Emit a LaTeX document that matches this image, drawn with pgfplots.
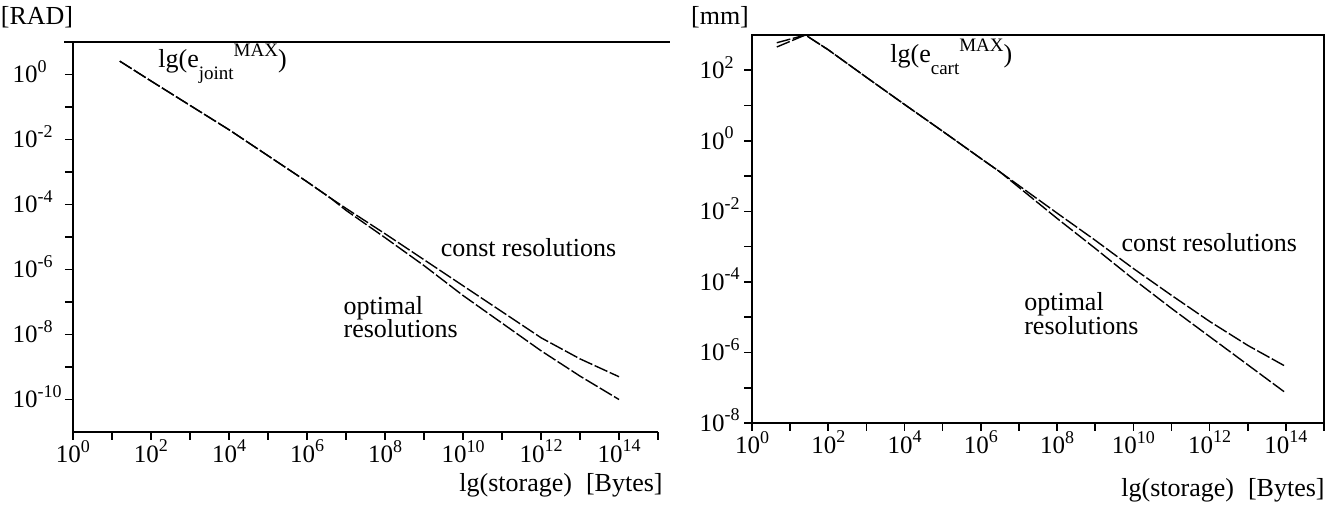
\documentclass[border=0pt]{standalone}
\usepackage{fontspec}
\setmainfont{Liberation Serif}
\usepackage{pgfplots}
\pgfplotsset{compat=1.18}
\newcommand{\tp}[1]{10\raisebox{5.2pt}{\fontsize{9}{9}\selectfont #1}}
\newcommand{\tf}{\fontsize{12.5}{13}\selectfont}
\newcommand{\lf}{\fontsize{13}{15}\selectfont}
\newcommand{\ssf}{\fontsize{9.5}{10}\selectfont}
\newcommand{\yla}[1]{\makebox[25pt][l]{\tp{#1}}}
\newcommand{\ylb}[1]{\makebox[21pt][l]{\tp{#1}}}
\pgfplotsset{
  common/.style={
    scale only axis,
    xmin=0, xmax=15,
    xtick={0,...,15},
    xticklabels={{\tp{0}},{},{\tp{2}},{},{\tp{4}},{},{\tp{6}},{},{\tp{8}},{},{\tp{10}},{},{\tp{12}},{},{\tp{14}},{}},
    tick align=outside,
    major tick length=4pt,
    tick style={black, line width=0.8pt},
    axis line style={line width=1pt},
    ticklabel style={font=\tf},
    xticklabel style={yshift=3.5pt},
    yticklabel style={anchor=base east, yshift=-4.2pt, inner xsep=1pt},
    xtick pos=bottom, ytick pos=left,
    clip=false,
  },
  crv/.style={black, line width=0.7pt, dash pattern=on 7pt off 1.3pt},
}
\begin{document}
\begin{tikzpicture}
\useasboundingbox (-36.5pt,-37pt) rectangle (632pt,216pt);
% ---------------- left chart ----------------
\begin{axis}[common,
  at={(0pt,0pt)}, anchor=south west,
  width=292.5pt, height=195pt,
  ymin=-11, ymax=1,
  axis x line*=bottom, axis y line*=left,
  ytick={-10,...,0},
  yticklabels={{\yla{-10}},{},{\yla{-8}},{},{\yla{-6}},{},{\yla{-4}},{},{\yla{-2}},{},{\yla{0}}},
]
\addplot[crv] coordinates {(1.2,0.41) (2,-0.2) (3,-0.95) (4,-1.7) (5,-2.5) (6,-3.3) (6.6,-3.8) (7,-4.12) (8,-4.9) (9,-5.7) (10,-6.5) (11,-7.3) (12,-8.1) (13,-8.75) (14,-9.3)};
\addplot[crv] coordinates {(1.2,0.41) (2,-0.2) (3,-0.95) (4,-1.7) (5,-2.5) (6,-3.3) (6.6,-3.8) (7,-4.18) (8,-5.02) (9,-5.88) (10,-6.8) (11,-7.65) (12,-8.5) (13,-9.28) (14,-10.0)};
\draw[line width=1pt] (rel axis cs:-0.015,1) -- (rel axis cs:1.02,1);
\node[anchor=base west, inner sep=0pt, font=\lf] at (axis cs:2.18,0.22) {lg(e\raisebox{-6pt}{\ssf joint}\raisebox{5.5pt}{\ssf MAX})};
\node[anchor=base west, inner sep=0pt, font=\lf] at (axis cs:9.42,-5.6) {const resolutions};
\node[anchor=base west, inner sep=0pt, font=\lf] at (axis cs:6.93,-7.37) {optimal};
\node[anchor=base west, inner sep=0pt, font=\lf] at (axis cs:6.93,-8.1) {resolutions};
\end{axis}
% ---------------- right chart ----------------
\begin{axis}[common,
  at={(339.5pt,4.5pt)}, anchor=south west,
  width=286pt, height=194pt,
  ymin=-8, ymax=3,
  ytick={-8,...,2},
  yticklabels={{\ylb{-8}},{},{\ylb{-6}},{},{\ylb{-4}},{},{\ylb{-2}},{},{\ylb{0}},{},{\ylb{2}}},
]
\addplot[crv] coordinates {(0.65,2.78) (1.4,3.0) (2,2.58) (3,1.8) (4,1.03) (5,0.27) (6,-0.5) (6.5,-0.88) (7,-1.27) (8,-2.05) (9,-2.82) (10,-3.62) (11,-4.38) (12,-5.12) (13,-5.8) (14,-6.4)};
\addplot[crv] coordinates {(0.65,2.66) (1.4,3.0) (2,2.58) (3,1.8) (4,1.03) (5,0.27) (6,-0.5) (6.5,-0.88) (7,-1.32) (8,-2.2) (9,-3.05) (10,-3.92) (11,-4.75) (12,-5.55) (13,-6.35) (14,-7.15)};
\node[anchor=base west, inner sep=0pt, font=\lf] at (axis cs:3.62,2.23) {lg(e\raisebox{-6pt}{\ssf cart}\raisebox{5.5pt}{\ssf MAX})};
\node[anchor=base west, inner sep=0pt, font=\lf] at (axis cs:9.68,-3.15) {const resolutions};
\node[anchor=base west, inner sep=0pt, font=\lf] at (axis cs:7.13,-4.82) {optimal};
\node[anchor=base west, inner sep=0pt, font=\lf] at (axis cs:7.13,-5.5) {resolutions};
\end{axis}
% ---------------- unit labels ----------------
\node[font=\lf, inner sep=0pt] at (-18pt,207.5pt) {[RAD]};
\node[font=\lf, inner sep=0pt] at (323.5pt,207.5pt) {[mm]};
\node[font=\lf, inner sep=0pt, anchor=base east] at (295pt,-30pt) {lg(storage)\hspace{7pt}[Bytes]};
\node[font=\lf, inner sep=0pt, anchor=base east] at (626pt,-32.5pt) {lg(storage)\hspace{7pt}[Bytes]};
\end{tikzpicture}
\end{document}
